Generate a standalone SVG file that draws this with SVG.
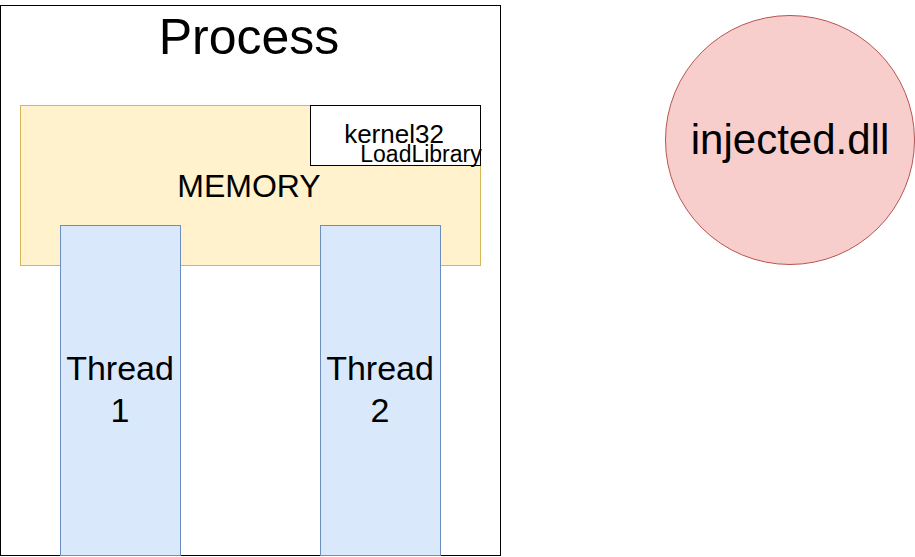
<svg xmlns="http://www.w3.org/2000/svg" width="915" height="557" viewBox="0 0 915 557">
<style>
text{font-family:"Liberation Sans",Arial,sans-serif;fill:#000;text-anchor:middle}
.mem{fill:#fff2cc;stroke:#d6b656}
.thr{fill:#dae8fc;stroke:#6c8ebf}
</style>
<rect width="915" height="557" fill="#fff"/>
<g id="process">
<rect x="0.5" y="5.5" width="500" height="550" fill="#fff" stroke="#000"/>
<text x="249" y="54" font-size="50">Process</text>
</g>
<g id="memory">
<rect class="mem" x="20.5" y="105.5" width="460" height="160"/>
<text x="249" y="197" font-size="32">MEMORY</text>
</g>
<g id="kernel32">
<rect x="310.5" y="105.5" width="170" height="60" fill="#fff" stroke="#000"/>
<text x="394" y="143" font-size="26">kernel32</text>
<text x="421" y="162" font-size="23">LoadLibrary</text>
</g>
<g id="thread1">
<rect class="thr" x="60.5" y="225.5" width="120" height="330"/>
<text x="120" y="380" font-size="34">Thread</text>
<text x="120" y="422" font-size="34">1</text>
</g>
<g id="thread2">
<rect class="thr" x="320.5" y="225.5" width="120" height="330"/>
<text x="380" y="380" font-size="34">Thread</text>
<text x="380" y="422" font-size="34">2</text>
</g>
<g id="injected">
<circle cx="790" cy="140" r="124.5" fill="#f8cecc" stroke="#b85450"/>
<text x="790" y="154" font-size="42">injected.dll</text>
</g>
<g id="connectors"/>
</svg>
